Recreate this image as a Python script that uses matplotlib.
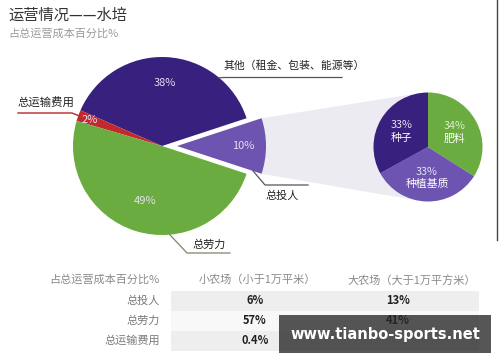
import numpy as np
import matplotlib
matplotlib.use('Agg')
import matplotlib.pyplot as plt
from matplotlib.patches import Polygon, Rectangle

plt.rcParams['font.family'] = ['Noto Sans CJK SC', 'DejaVu Sans']

# main pie: share of total operating cost
main_labels = ['总投人', '其他', '总运输费用', '总劳力']
main_values = [10, 38, 2, 49]
main_pct = ['10%', '38%', '2%', '49%']
main_colors = ['#6c54b0', '#37207e', '#c3282d', '#6aac3f']

# breakdown of total input
sub_labels = ['肥料', '种植基质', '种子']
sub_values = [34, 33, 33]
sub_pct = ['34%', '33%', '33%']
sub_colors = ['#6aac3f', '#6c54b0', '#37207e']

# table
table_header = ['占总运营成本百分比%', '小农场（小于1万平米）', '大农场（大于1万平方米）']
table_rows = ['总投人', '总劳力', '总运输费用']
small_farm = ['6%', '57%', '0.4%']
large_farm = ['13%', '41%', '']

W, H = 500, 362
fig = plt.figure(figsize=(5, 3.62), dpi=100)
ax = fig.add_axes([0, 0, 1, 1])

def Y(y):
    # image row -> axes y
    return H - y

def reset_axes():
    ax.set_xlim(0, W)
    ax.set_ylim(0, H)
    ax.set_aspect('equal')
    ax.axis('off')

# title
ax.text(8, Y(15), '运营情况——水培', fontsize=11, color='#333333', va='center', ha='left')
ax.text(8, Y(34), '占总运营成本百分比%', fontsize=8, color='#9a9a9a', va='center', ha='left')

# main pie (explode is in data units here)
c_main = (162, Y(146))
r_main = 89
start = -main_values[0] / sum(main_values) * 360 / 2
wedges, _ = ax.pie(main_values, colors=main_colors, startangle=start, counterclock=True,
                   center=c_main, radius=r_main, explode=[15, 0, 0, 0],
                   wedgeprops=dict(linewidth=0), frame=True)
reset_axes()

dists = [0.74, 0.71, 0.87, 0.65]
for w, txt, d in zip(wedges, main_pct, dists):
    a = np.deg2rad((w.theta1 + w.theta2) / 2)
    cx, cy = w.center
    ax.text(cx + d * w.r * np.cos(a), cy + d * w.r * np.sin(a), txt,
            ha='center', va='center', fontsize=8, color='#e4e0f2', zorder=5)

# small pie
c_sub = (428, Y(147))
r_sub = 54.5
swedges, _ = ax.pie(sub_values, colors=sub_colors, startangle=90, counterclock=False,
                    center=c_sub, radius=r_sub, wedgeprops=dict(linewidth=0), frame=True)
reset_axes()
pct_col = ['#dcefc8', '#e6e2f5', '#e6e2f5']
for w, lab, pct, pc in zip(swedges, sub_labels, sub_pct, pct_col):
    a = np.deg2rad((w.theta1 + w.theta2) / 2)
    x = c_sub[0] + 0.56 * r_sub * np.cos(a)
    y = c_sub[1] + 0.56 * r_sub * np.sin(a)
    ax.text(x, y + 6, pct, ha='center', va='center', fontsize=7.8, color=pc, zorder=5)
    ax.text(x, y - 6.5, lab, ha='center', va='center', fontsize=7.8, color='white', zorder=5)

# grey fan linking exploded slice to breakdown pie
w0 = wedges[0]
ex, ey = w0.center
p1 = np.array([ex + w0.r * np.cos(np.deg2rad(w0.theta2)), ey + w0.r * np.sin(np.deg2rad(w0.theta2))])
p2 = np.array([ex + w0.r * np.cos(np.deg2rad(w0.theta1)), ey + w0.r * np.sin(np.deg2rad(w0.theta1))])

def tangent(p, sign):
    cc = np.array(c_sub)
    v = p - cc
    d = np.hypot(*v)
    phi = np.arctan2(v[1], v[0])
    alpha = np.arccos(r_sub / d)
    a = phi + sign * alpha
    return cc + r_sub * np.array([np.cos(a), np.sin(a)])

t1 = tangent(p1, -1)
t2 = tangent(p2, 1)
fan = Polygon([p1, t1, c_sub, t2, p2], closed=True, facecolor='#ecebf1', edgecolor='none', zorder=0)
ax.add_patch(fan)

# leader lines and labels
def edge_pt(w, ang, frac=1.0):
    cx, cy = w.center
    a = np.deg2rad(ang)
    return cx + frac * w.r * np.cos(a), cy + frac * w.r * np.sin(a)

x0, y0 = edge_pt(wedges[1], 50)
ax.plot([x0, 224, 342], [y0, Y(77.5), Y(77.5)], color='#555555', lw=0.9, zorder=4)
ax.text(223, Y(66), '其他（租金、包装、能源等）', fontsize=7.8, color='#222222', ha='left', va='center')

x0, y0 = edge_pt(wedges[2], (wedges[2].theta1 + wedges[2].theta2) / 2)
ax.plot([x0, 72, 18], [y0, Y(113), Y(113)], color='#b8262b', lw=1.0, zorder=4)
ax.text(18, Y(102), '总运输费用', fontsize=8.2, color='#222222', ha='left', va='center')

x0, y0 = edge_pt(wedges[3], 275)
ax.plot([x0, 187, 230], [y0, Y(253), Y(253)], color='#7a8570', lw=0.9, zorder=4)
ax.text(192, Y(245), '总劳力', fontsize=8, color='#222222', ha='left', va='center')

x0, y0 = edge_pt(w0, w0.theta1, 0.9)
ax.plot([x0, 265, 308], [y0, Y(185), Y(185)], color='#555555', lw=0.9, zorder=4)
ax.text(265, Y(196), '总投人', fontsize=8, color='#222222', ha='left', va='center')

# frame line on the right
ax.plot([497, 497], [Y(0), Y(240)], color='#444444', lw=1.0)

# table
ax.text(160, Y(280), table_header[0], fontsize=8, color='#8a8a8a', ha='right', va='center')
ax.text(257, Y(280), table_header[1], fontsize=8, color='#8a8a8a', ha='center', va='center')
ax.text(412, Y(280), table_header[2], fontsize=8, color='#8a8a8a', ha='center', va='center')
row_y = [301, 321, 341]
band_col = ['#eeeeee', '#f8f8f8', '#eeeeee']
for ry, lab, s, l, bc in zip(row_y, table_rows, small_farm, large_farm, band_col):
    ax.add_patch(Rectangle((171, Y(ry + 10)), 308, 20, facecolor=bc, edgecolor='none', zorder=0))
    ax.text(160, Y(ry), lab, fontsize=8, color='#7a7a7a', ha='right', va='center')
    ax.text(255, Y(ry), s, fontsize=8, color='#222222', fontweight='bold', ha='center', va='center')
    if l:
        ax.text(398, Y(ry), l, fontsize=8, color='#222222', fontweight='bold', ha='center', va='center')

# watermark (semi-transparent box)
ax.add_patch(Rectangle((279, Y(353)), 212, 38, facecolor='#262626', alpha=0.78,
                       edgecolor='none', zorder=8))
ax.text(385, Y(335), 'www.tianbo-sports.net', fontsize=10.5, fontweight='bold', family='DejaVu Sans',
        color='white', ha='center', va='center', zorder=9)

fig.savefig('out.png', dpi=100)
